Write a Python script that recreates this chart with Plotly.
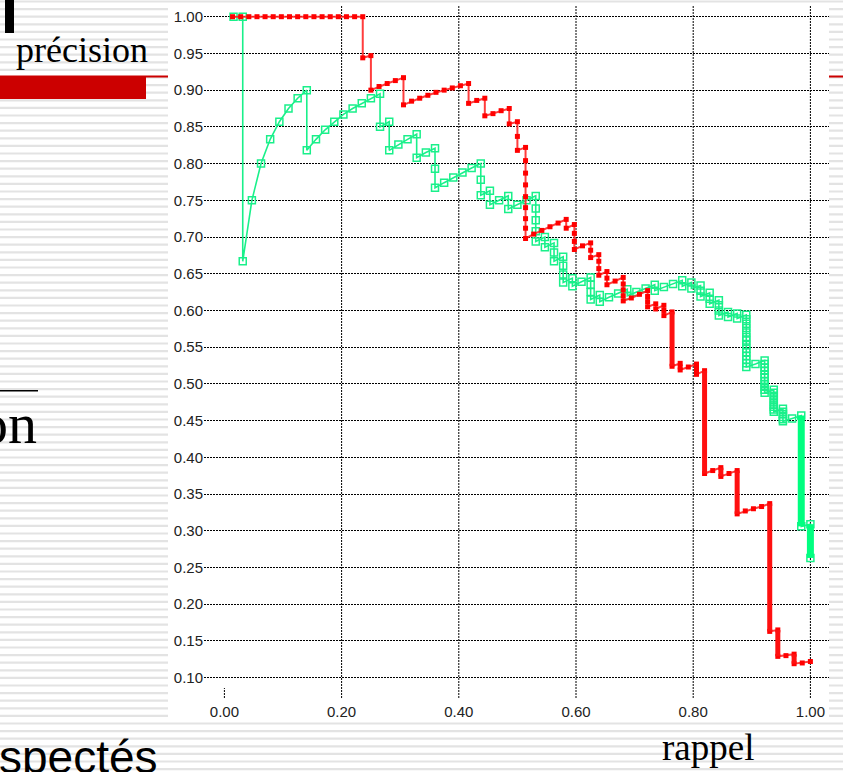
import plotly.graph_objects as go

# ---------------------------------------------------------------------------
# Precision / recall curves of two ranked runs (points in ranking order)
# ---------------------------------------------------------------------------
red_recall = [
    0.0139, 0.0278, 0.0417, 0.0556, 0.0694, 0.0833, 0.0972, 0.1111, 0.125, 0.1389,
    0.1528, 0.1667, 0.1806, 0.1944, 0.2083, 0.2222, 0.2361, 0.2361, 0.25, 0.25,
    0.2639, 0.2778, 0.2917, 0.3056, 0.3056, 0.3194, 0.3333, 0.3472, 0.3611, 0.375,
    0.3889, 0.4028, 0.4167, 0.4167, 0.4306, 0.4444, 0.4444, 0.4583, 0.4722, 0.4861,
    0.4861, 0.5, 0.5, 0.5, 0.5139, 0.5139, 0.5139, 0.5139, 0.5139, 0.5139,
    0.5139, 0.5139, 0.5139, 0.5278, 0.5417, 0.5556, 0.5694, 0.5833, 0.5833, 0.5972,
    0.5972, 0.5972, 0.5972, 0.6111, 0.625, 0.625, 0.625, 0.6389, 0.6389, 0.6389,
    0.6389, 0.6528, 0.6528, 0.6528, 0.6667, 0.6806, 0.6806, 0.6806, 0.6806, 0.6806,
    0.6944, 0.7083, 0.7222, 0.7222, 0.7222, 0.7222, 0.7361, 0.7361, 0.75, 0.75,
    0.75, 0.7639, 0.7639, 0.7778, 0.7778, 0.7778, 0.7917, 0.8056, 0.8056, 0.8056,
    0.8056, 0.8194, 0.8194, 0.8333, 0.8472, 0.8472, 0.8611, 0.875, 0.875, 0.8889,
    0.9028, 0.9167, 0.9306, 0.9306, 0.9444, 0.9444, 0.9583, 0.9722, 0.9722, 0.9861,
    1.0,
]
red_precision = [
    1.0, 1.0, 1.0, 1.0, 1.0, 1.0, 1.0, 1.0, 1.0, 1.0,
    1.0, 1.0, 1.0, 1.0, 1.0, 1.0, 1.0, 0.944, 0.947, 0.900,
    0.905, 0.909, 0.913, 0.917, 0.880, 0.885, 0.889, 0.893, 0.897, 0.900,
    0.903, 0.906, 0.909, 0.882, 0.886, 0.889, 0.865, 0.868, 0.872, 0.875,
    0.854, 0.857, 0.837, 0.818, 0.822, 0.804, 0.787, 0.771, 0.755, 0.740,
    0.725, 0.712, 0.698, 0.704, 0.709, 0.714, 0.719, 0.724, 0.712, 0.717,
    0.705, 0.694, 0.683, 0.688, 0.692, 0.682, 0.672, 0.676, 0.667, 0.657,
    0.648, 0.653, 0.644, 0.635, 0.640, 0.645, 0.636, 0.628, 0.620, 0.613,
    0.617, 0.622, 0.627, 0.619, 0.612, 0.605, 0.609, 0.602, 0.607, 0.600,
    0.593, 0.598, 0.524, 0.528, 0.523, 0.519, 0.523, 0.527, 0.523, 0.518,
    0.513, 0.518, 0.378, 0.382, 0.386, 0.374, 0.378, 0.382, 0.323, 0.327,
    0.330, 0.333, 0.337, 0.163, 0.165, 0.129, 0.130, 0.132, 0.119, 0.120,
    0.122,
]
# Stretches where the red markers pile up into a solid vertical bar
red_bar_recall = [0.7639, 0.8194, 0.8472, 0.875, 0.9306, 0.9444, 0.9722]
red_bar_top = [0.598, 0.518, 0.386, 0.382, 0.337, 0.165, 0.132]
red_bar_bottom = [0.524, 0.378, 0.374, 0.323, 0.163, 0.129, 0.119]

green_recall = [
    0.0156, 0.0313, 0.0313, 0.0469, 0.0625, 0.0781, 0.0938, 0.1094, 0.125, 0.1406,
    0.1406, 0.1563, 0.1719, 0.1875, 0.2031, 0.2188, 0.2344, 0.25, 0.2656, 0.2656,
    0.2813, 0.2813, 0.2969, 0.3125, 0.3281, 0.3281, 0.3438, 0.3594, 0.3594, 0.3594,
    0.375, 0.3906, 0.4063, 0.4219, 0.4375, 0.4375, 0.4375, 0.4531, 0.4531, 0.4688,
    0.4844, 0.4844, 0.5, 0.5156, 0.5313, 0.5313, 0.5313, 0.5313, 0.5313, 0.5469,
    0.5469, 0.5625, 0.5625, 0.5625, 0.5781, 0.5781, 0.5781, 0.5781, 0.5938, 0.5938,
    0.6094, 0.625, 0.625, 0.625, 0.625, 0.6406, 0.6406, 0.6563, 0.6719, 0.6875,
    0.6875, 0.7031, 0.7188, 0.7344, 0.7344, 0.75, 0.7656, 0.7813, 0.7813, 0.7969,
    0.7969, 0.8125, 0.8125, 0.8125, 0.8281, 0.8281, 0.8281, 0.8438, 0.8438, 0.8438,
    0.8438, 0.8594, 0.8594, 0.875, 0.875, 0.8906, 0.8906, 0.8906, 0.8906, 0.8906,
    0.8906, 0.8906, 0.8906, 0.8906, 0.8906, 0.8906, 0.8906, 0.8906, 0.8906, 0.9063,
    0.9219, 0.9219, 0.9219, 0.9219, 0.9219, 0.9219, 0.9219, 0.9219, 0.9219, 0.9219,
    0.9219, 0.9375, 0.9375, 0.9375, 0.9375, 0.9375, 0.9375, 0.9375, 0.9375, 0.9375,
    0.9531, 0.9531, 0.9531, 0.9531, 0.9531, 0.9531, 0.9688, 0.9844, 0.9844, 1.0,
    1.0,
]
green_precision = [
    1.0, 1.0, 0.667, 0.750, 0.800, 0.833, 0.857, 0.875, 0.889, 0.900,
    0.818, 0.833, 0.846, 0.857, 0.867, 0.875, 0.882, 0.889, 0.895, 0.850,
    0.857, 0.818, 0.826, 0.833, 0.840, 0.808, 0.815, 0.821, 0.793, 0.767,
    0.774, 0.781, 0.788, 0.794, 0.800, 0.778, 0.757, 0.763, 0.744, 0.750,
    0.756, 0.738, 0.744, 0.750, 0.756, 0.739, 0.723, 0.708, 0.694, 0.700,
    0.686, 0.692, 0.679, 0.667, 0.673, 0.661, 0.649, 0.638, 0.644, 0.633,
    0.639, 0.645, 0.635, 0.625, 0.615, 0.621, 0.612, 0.618, 0.623, 0.629,
    0.620, 0.625, 0.630, 0.635, 0.627, 0.632, 0.636, 0.641, 0.633, 0.638,
    0.630, 0.634, 0.627, 0.619, 0.624, 0.616, 0.609, 0.614, 0.607, 0.600,
    0.593, 0.598, 0.591, 0.596, 0.589, 0.594, 0.588, 0.582, 0.576, 0.570,
    0.564, 0.559, 0.553, 0.548, 0.543, 0.538, 0.533, 0.528, 0.523, 0.527,
    0.532, 0.527, 0.522, 0.518, 0.513, 0.509, 0.504, 0.500, 0.496, 0.492,
    0.488, 0.492, 0.488, 0.484, 0.480, 0.476, 0.472, 0.469, 0.465, 0.462,
    0.466, 0.462, 0.459, 0.455, 0.452, 0.449, 0.453, 0.457, 0.306, 0.309,
    0.263,
]
# Stretches where the green markers merge into a solid vertical bar
green_bar_recall = [0.9844, 1.0]
green_bar_top = [0.457, 0.309]
green_bar_bottom = [0.306, 0.263]

x_ticks = [0.0, 0.2, 0.4, 0.6, 0.8, 1.0]
x_tick_labels = ["0.00", "0.20", "0.40", "0.60", "0.80", "1.00"]
y_ticks = [0.10, 0.15, 0.20, 0.25, 0.30, 0.35, 0.40, 0.45, 0.50, 0.55,
           0.60, 0.65, 0.70, 0.75, 0.80, 0.85, 0.90, 0.95, 1.00]
y_tick_labels = ["0.10", "0.15", "0.20", "0.25", "0.30", "0.35", "0.40", "0.45", "0.50", "0.55",
                 "0.60", "0.65", "0.70", "0.75", "0.80", "0.85", "0.90", "0.95", "1.00"]

# ---------------------------------------------------------------------------
W, H = 843, 772


def px(x):
    return x / W


def py(y):
    return 1 - y / H


def bar_xy(xs, tops, bottoms):
    bx, by = [], []
    for x, t, b in zip(xs, tops, bottoms):
        bx += [x, x, None]
        by += [t, b, None]
    return bx, by


RED_LINE = "rgba(255,40,40,0.9)"
RED = "#ff0000"
GREEN = "#19f08a"
GRID_DASH = "2px,1px"

fig = go.Figure()

fig.add_trace(go.Scatter(
    x=green_recall, y=green_precision, mode="lines+markers",
    line=dict(color=GREEN, width=1.6),
    marker=dict(symbol="square-open", size=7, color=GREEN, line=dict(width=1.5, color=GREEN)),
    hoverinfo="x+y",
))
gx, gy = bar_xy(green_bar_recall, green_bar_top, green_bar_bottom)
fig.add_trace(go.Scatter(x=gx, y=gy, mode="lines", line=dict(color="#00ff80", width=7),
                         hoverinfo="skip"))

fig.add_trace(go.Scatter(
    x=red_recall, y=red_precision, mode="lines+markers",
    line=dict(color=RED_LINE, width=2),
    marker=dict(symbol="square", size=5, color=RED),
    hoverinfo="x+y",
))
rx, ry = bar_xy(red_bar_recall, red_bar_top, red_bar_bottom)
fig.add_trace(go.Scatter(x=rx, y=ry, mode="lines", line=dict(color="#ff1010", width=5),
                         hoverinfo="skip"))

shapes = []
# striped slide background
for i in range(103):
    yc = 1.5 + 7.6 * i
    shapes.append(dict(type="rect", xref="paper", yref="paper", layer="below",
                       x0=0, x1=1, y0=py(yc + 1.1), y1=py(yc - 1.1),
                       fillcolor="#e3e3e3", line=dict(width=0)))
# red rule across the slide and the title bar
shapes.append(dict(type="rect", xref="paper", yref="paper", layer="below",
                   x0=0, x1=1, y0=py(77.5), y1=py(75.5), fillcolor="#cc0000", line=dict(width=0)))
shapes.append(dict(type="rect", xref="paper", yref="paper", layer="below",
                   x0=0, x1=px(146), y0=py(99), y1=py(76), fillcolor="#cc0000", line=dict(width=0)))
shapes.append(dict(type="rect", xref="paper", yref="paper", layer="below",
                   x0=px(5), x1=px(14), y0=py(33), y1=py(0), fillcolor="#000000", line=dict(width=0)))
shapes.append(dict(type="rect", xref="paper", yref="paper", layer="below",
                   x0=0, x1=px(38), y0=py(391.5), y1=py(390), fillcolor="#000000", line=dict(width=0)))
# white chart panel
shapes.append(dict(type="rect", xref="paper", yref="paper", layer="below",
                   x0=px(168), x1=px(829), y0=py(720), y1=py(5), fillcolor="#ffffff", line=dict(width=0)))
# vertical dotted grid lines
for v in x_ticks:
    y_low = py(698)
    y_high = py(5) if v > 0 else py(688)
    shapes.append(dict(type="line", xref="x", yref="paper", layer="below",
                       x0=v, x1=v, y0=y_low, y1=y_high,
                       line=dict(color="#000000", width=1, dash=GRID_DASH)))

annotations = [
    dict(text="précision", x=px(14), y=py(50), xref="paper", yref="paper",
         xanchor="left", yanchor="middle", showarrow=False,
         font=dict(family="Liberation Serif", size=36, color="#000000")),
    dict(text="on", x=px(39), y=py(424), xref="paper", yref="paper",
         xanchor="right", yanchor="middle", showarrow=False,
         font=dict(family="Liberation Serif", size=58, color="#000000")),
    dict(text="spectés", x=px(-3), y=py(757), xref="paper", yref="paper",
         xanchor="left", yanchor="middle", showarrow=False,
         font=dict(family="Liberation Sans", size=46, color="#000000")),
    dict(text="rappel", x=px(708), y=py(747), xref="paper", yref="paper",
         xanchor="center", yanchor="middle", showarrow=False,
         font=dict(family="Liberation Serif", size=37, color="#000000")),
]

fig.update_layout(
    width=W, height=H,
    margin=dict(l=0, r=0, t=0, b=0),
    paper_bgcolor="#ffffff", plot_bgcolor="#ffffff",
    showlegend=False,
    shapes=shapes,
    annotations=annotations,
    xaxis=dict(
        domain=[px(204), px(829)],
        range=[(204 - 224.4) / 586, (829 - 224.4) / 586],
        tickvals=x_ticks, ticktext=x_tick_labels,
        showgrid=False, zeroline=False, showline=False, ticks="",
        ticklabelstandoff=4,
        tickfont=dict(family="Liberation Sans", size=15, color="#222222"),
    ),
    yaxis=dict(
        domain=[py(697), py(5)],
        range=[1 - (697 - 16.7) / 734.4, 1 + (16.7 - 5) / 734.4],
        tickvals=y_ticks, ticktext=y_tick_labels,
        showgrid=True, gridcolor="#000000", gridwidth=1, griddash=GRID_DASH,
        zeroline=False, showline=False, ticks="",
        tickfont=dict(family="Liberation Sans", size=15, color="#222222"),
    ),
)

fig.write_html("out.html")
